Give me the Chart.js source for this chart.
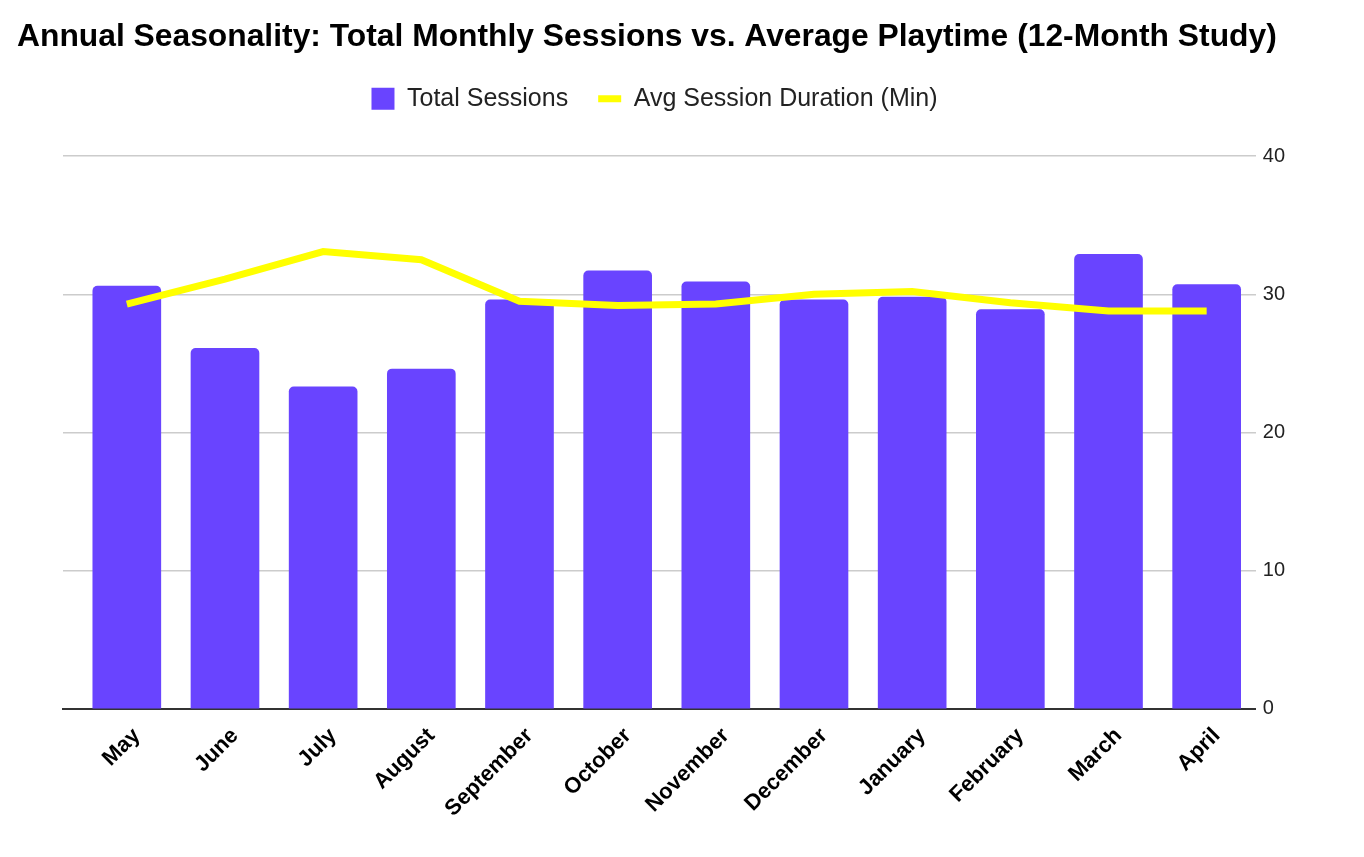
<!DOCTYPE html>
<html>
<head>
<meta charset="utf-8">
<script src="https://cdn.jsdelivr.net/npm/chart.js@4.4.1/dist/chart.umd.min.js"></script>
<style>
  html, body { margin: 0; padding: 0; background: #ffffff; }
  #wrap { width: 1364px; height: 857px; position: relative; }
</style>
</head>
<body>
<div id="wrap"><canvas id="c"></canvas></div>
<script>
const months = ["May", "June", "July", "August", "September", "October", "November", "December", "January", "February", "March", "April"];
const totalSessions = [30.6, 26.1, 23.3, 24.6, 29.6, 31.7, 30.9, 29.6, 29.8, 28.9, 32.9, 30.7];
const avgDuration = [29.3, 31.1, 33.1, 32.5, 29.5, 29.2, 29.3, 30.0, 30.2, 29.4, 28.8, 28.8];
const yTicks = [0, 10, 20, 30, 40];

const FONT = "'Liberation Sans', Arial, sans-serif";

const legendSpacer = {
  id: 'legendSpacer',
  beforeInit(chart) {
    const origFit = chart.legend.fit;
    chart.legend.fit = function () {
      origFit.bind(chart.legend)();
      this.height += 35;
    };
  }
};

new Chart(document.getElementById('c'), {
  data: {
    datasets: [
      {
        type: 'line',
        label: 'Avg Session Duration (Min)',
        data: avgDuration.map((v, i) => ({ x: i, y: v })),
        borderColor: '#FFFF00',
        backgroundColor: '#FFFF00',
        borderWidth: 7,
        pointRadius: 0,
        tension: 0,
        order: 0,
        pointStyle: 'line',
        yAxisID: 'y'
      },
      {
        type: 'bar',
        label: 'Total Sessions',
        data: totalSessions.map((v, i) => ({ x: i, y: v })),
        backgroundColor: '#6944FF',
        borderWidth: 0,
        borderRadius: { topLeft: 5, topRight: 5 },
        borderSkipped: false,
        barThickness: 68,
        order: 1,
        pointStyle: 'rect',
        yAxisID: 'y'
      }
    ]
  },
  plugins: [legendSpacer],
  options: {
    responsive: true,
    maintainAspectRatio: false,
    animation: false,
    layout: { padding: { left: 17, right: 72, top: 0, bottom: 29 } },
    plugins: {
      title: {
        display: true,
        text: 'Annual Seasonality: Total Monthly Sessions vs. Average Playtime (12-Month Study)',
        align: 'start',
        color: '#000000',
        font: { family: FONT, size: 31.8, weight: 'bold' },
        padding: { top: 18, bottom: 0 },
        fullSize: true
      },
      legend: {
        display: true,
        position: 'top',
        reverse: true,
        labels: {
          color: '#222222',
          font: { family: FONT, size: 25 },
          usePointStyle: true,
          pointStyleWidth: 23,
          boxHeight: 22,
          padding: 30
        }
      },
      tooltip: { enabled: false }
    },
    scales: {
      x: {
        type: 'linear',
        offset: false,
        min: -0.65,
        max: 11.5,
        afterBuildTicks: (scale) => { scale.ticks = months.map((m, i) => ({ value: i })); },
        ticks: {
          autoSkip: false,
          maxRotation: 45,
          minRotation: 45,
          color: '#000000',
          font: { family: FONT, size: 22, weight: 'bold' },
          callback: (v) => months[v] !== undefined ? months[v] : '',
          padding: 6,
          labelOffset: 10
        },
        grid: { display: false },
        border: { display: true, color: '#333333', width: 2 }
      },
      y: {
        position: 'right',
        min: 0,
        max: 40,
        afterBuildTicks: (scale) => { scale.ticks = yTicks.map(v => ({ value: v })); },
        ticks: {
          color: '#222222',
          font: { family: FONT, size: 20 },
          padding: 7
        },
        grid: { color: '#CCCCCC', lineWidth: 1.5, drawTicks: false },
        border: { display: false }
      },
      yLeft: {
        position: 'left',
        display: true,
        min: 0,
        max: 40,
        grid: { display: false },
        border: { display: false },
        ticks: { display: false },
        afterFit: (scale) => { scale.width = 46; }
      }
    }
  }
});
</script>
</body>
</html>
